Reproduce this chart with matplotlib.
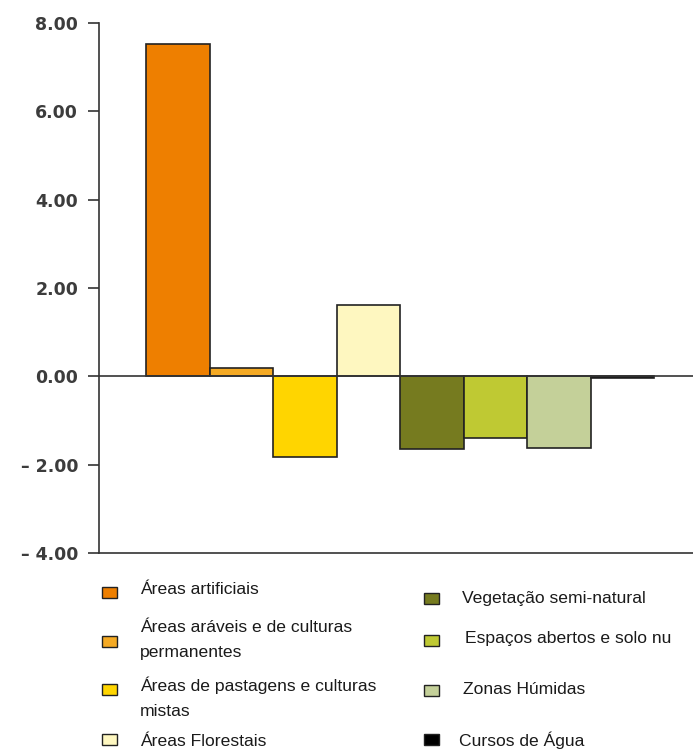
import matplotlib.pyplot as plt
from matplotlib.patches import Rectangle

# Variação por classe de ocupação do solo
classes = [
    "Áreas artificiais",
    "Áreas aráveis e de culturas\npermanentes",
    "Áreas de pastagens e culturas\nmistas",
    "Áreas Florestais",
    "Vegetação semi-natural",
    "Espaços abertos e solo nu",
    "Zonas Húmidas",
    "Cursos de Água",
]
valores = [7.53, 0.19, -1.83, 1.61, -1.65, -1.40, -1.63, -0.04]
cores = ["#EE7F00", "#F5AA24", "#FFD500", "#FEF7C0",
         "#767B1F", "#BFC933", "#C4D099", "#000000"]

yticks = [8, 6, 4, 2, 0, -2, -4]
ytick_labels = ["8.00", "6.00", "4.00", "2.00", "0.00", "– 2.00", "– 4.00"]

W, H = 693, 749
fig = plt.figure(figsize=(W / 100, H / 100), dpi=100)
ax = fig.add_axes([99 / W, 1 - 553 / H, 1 - 99 / W, (553 - 23) / H])

x = list(range(len(valores)))
ax.bar(x, valores, width=1.0, color=cores, edgecolor="#222222", linewidth=1.2)
ax.axhline(0, color="#333333", linewidth=1.2)

ax.set_ylim(-4, 8)
ax.set_xlim(-1.24, 8.11)
ax.set_yticks(yticks)
ax.set_yticklabels(ytick_labels, fontsize=12.5, fontweight="bold",
                   color="#3c3c3c", family="DejaVu Sans")
ax.tick_params(axis="y", length=8, width=1.2, color="#333333", pad=7)
ax.set_xticks([])
for s in ["top", "right"]:
    ax.spines[s].set_visible(False)
for s in ["left", "bottom"]:
    ax.spines[s].set_color("#333333")
    ax.spines[s].set_linewidth(1.2)

# legenda em duas colunas, desenhada à mão
def px(xp, yp):
    return xp / W, 1 - yp / H

leg_sq = [(102, 592), (102, 641), (102, 689), (102, 739),
          (424, 598), (424, 640), (424, 690), (424, 739)]
leg_txt = [(140, 590), (140, 640), (140, 698), (140, 742),
           (462, 598), (465, 638), (463, 690), (459, 740)]

for i, nome in enumerate(classes):
    sx, sy = leg_sq[i]
    fx, fy = px(sx, sy + 5.5)
    fig.add_artist(Rectangle((fx, fy), 15 / W, 11 / H, transform=fig.transFigure,
                             facecolor=cores[i], edgecolor="#222222", linewidth=1.0))
    tx, ty = px(*leg_txt[i])
    fig.text(tx, ty, nome, fontsize=12.6, family="Liberation Sans", color="#1a1a1a",
             va="center", ha="left", linespacing=1.8)

fig.savefig("out.png", dpi=100)
